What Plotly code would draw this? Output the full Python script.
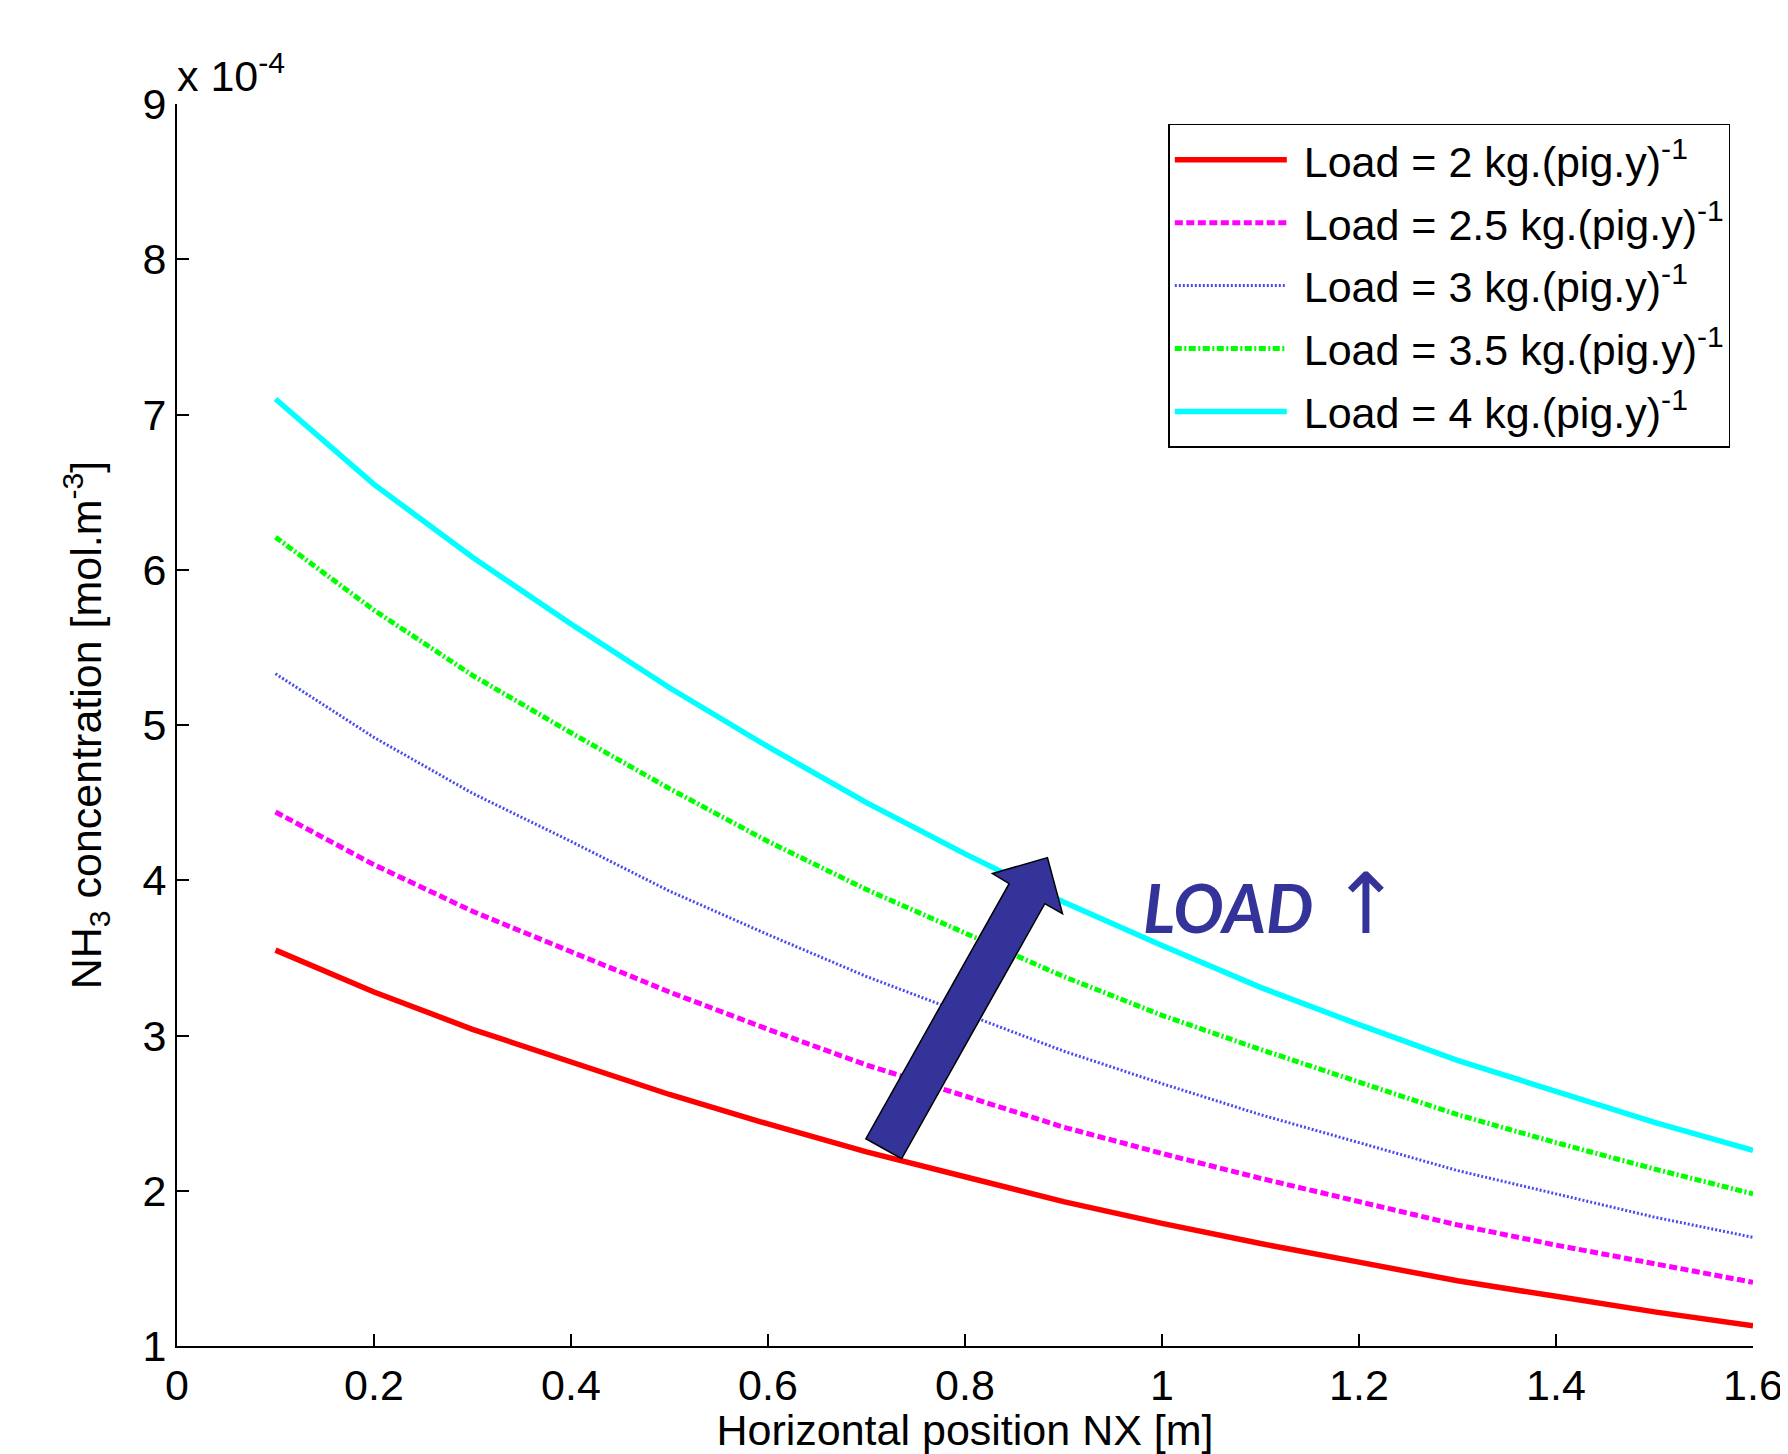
import plotly.graph_objects as go

# x positions [m]
x_pos = [0.1, 0.2, 0.3, 0.4, 0.5, 0.6, 0.7, 0.8, 0.9, 1.0, 1.1, 1.2, 1.3, 1.4, 1.5, 1.6]

# NH3 concentration in units of 1e-4 mol.m^-3
load_2 = [3.55, 3.28, 3.04, 2.83, 2.62, 2.43, 2.25, 2.09, 1.93, 1.79, 1.66, 1.54, 1.42, 1.32, 1.22, 1.13]
load_25 = [4.44, 4.10, 3.80, 3.54, 3.28, 3.04, 2.81, 2.61, 2.41, 2.24, 2.08, 1.93, 1.78, 1.65, 1.53, 1.41]
load_3 = [5.33, 4.92, 4.56, 4.25, 3.93, 3.65, 3.38, 3.14, 2.90, 2.69, 2.49, 2.31, 2.13, 1.98, 1.83, 1.70]
load_35 = [6.21, 5.74, 5.32, 4.95, 4.59, 4.25, 3.94, 3.66, 3.38, 3.13, 2.91, 2.70, 2.49, 2.31, 2.14, 1.98]
load_4 = [7.10, 6.55, 6.08, 5.65, 5.24, 4.86, 4.50, 4.17, 3.86, 3.58, 3.31, 3.07, 2.84, 2.64, 2.44, 2.26]

series_names = [
    "Load = 2 kg.(pig.y)<sup>-1</sup>",
    "Load = 2.5 kg.(pig.y)<sup>-1</sup>",
    "Load = 3 kg.(pig.y)<sup>-1</sup>",
    "Load = 3.5 kg.(pig.y)<sup>-1</sup>",
    "Load = 4 kg.(pig.y)<sup>-1</sup>",
]

x_tickvals = [0, 0.2, 0.4, 0.6, 0.8, 1.0, 1.2, 1.4, 1.6]
x_ticktext = ["0", "0.2", "0.4", "0.6", "0.8", "1", "1.2", "1.4", "1.6"]
y_tickvals = [1, 2, 3, 4, 5, 6, 7, 8, 9]
y_ticktext = ["1", "2", "3", "4", "5", "6", "7", "8", "9"]

FONT = "Liberation Sans, Arial, Helvetica, sans-serif"
FS = 43

styles = [
    dict(color="#FF0000", width=5.5, dash="solid"),
    dict(color="#FF00FF", width=5, dash="8px,3.5px"),
    dict(color="#4A4AF0", width=3, dash="2px,2px"),
    dict(color="#00FF00", width=5, dash="7px,2.5px,2px,2.5px"),
    dict(color="#00FFFF", width=5.5, dash="solid"),
]

fig = go.Figure()
for i, (name, ys, st) in enumerate(zip(series_names, [load_2, load_25, load_3, load_35, load_4], styles)):
    fig.add_trace(go.Scatter(x=x_pos, y=ys, mode="lines", name="\u00a0" + name, line=st,
                             legendgroup=f"g{i}"))

# big arrow (annotation glyph)
arrow = [(0.6994, 2.335), (0.7356, 2.206), (0.881, 3.849), (0.899, 3.785),
         (0.8837, 4.146), (0.8279, 4.043), (0.8448, 3.978)]
path = "M " + " L ".join(f"{a},{b}" for a, b in arrow) + " Z"
fig.add_shape(type="path", path=path, xref="x", yref="y",
              fillcolor="#333399", line=dict(color="black", width=1.5))

fig.add_annotation(x=1.112, y=3.85, xref="x", yref="y",
                   text="<b><i>LOAD</i></b> <span style=\"font-family:DejaVu Sans;font-size:84px\">↑</span>",
                   showarrow=False, font=dict(family="Lato, Open Sans, sans-serif", size=67, color="#333399"))

fig.add_annotation(x=0, y=1.0, xref="paper", yref="paper", xanchor="left", yanchor="bottom",
                   text="x 10<sup>-4</sup>", showarrow=False, xshift=-2, yshift=2,
                   font=dict(family=FONT, size=FS, color="black"))

fig.update_layout(
    width=1780, height=1446,
    margin=dict(l=169, r=35, t=96, b=108, autoexpand=False),
    paper_bgcolor="white", plot_bgcolor="white",
    font=dict(family=FONT, size=FS, color="black"),
    showlegend=True,
    legend=dict(x=0.629, y=0.984, xanchor="left", yanchor="top",
                bordercolor="black", borderwidth=1.5, bgcolor="white",
                font=dict(family=FONT, size=FS, color="black"),
                itemwidth=112, tracegroupgap=4),
    xaxis=dict(range=[0, 1.6], tickvals=x_tickvals, ticktext=x_ticktext,
               showline=True, linecolor="black", linewidth=2, mirror=False,
               ticks="inside", ticklen=12, tickwidth=1.5, tickcolor="black",
               showgrid=False, zeroline=False, automargin=False,
               title=dict(text="Horizontal position NX [m]", standoff=5,
                          font=dict(family=FONT, size=FS))),
    yaxis=dict(range=[1, 9], tickvals=y_tickvals, ticktext=y_ticktext,
               showline=True, linecolor="black", linewidth=2, mirror=False,
               ticks="inside", ticklen=12, tickwidth=1.5, tickcolor="black",
               showgrid=False, zeroline=False, automargin=False,
               title=dict(text="NH<sub>3</sub> concentration [mol.m<sup>-3</sup>]", standoff=27,
                          font=dict(family=FONT, size=FS))),
)

fig.write_html("out.html")
